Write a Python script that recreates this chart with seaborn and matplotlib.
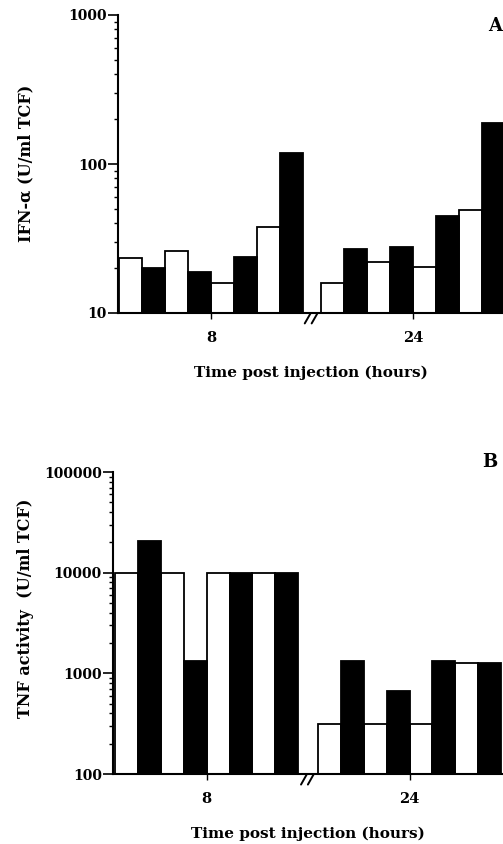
import numpy as np
import pandas as pd
import matplotlib
matplotlib.use("Agg")
import matplotlib.pyplot as plt
import matplotlib.ticker as mticker
import seaborn as sns

# bar values (open/filled pairs, 4 pairs per time point)
time_labels = ["8", "24"]
bar_fill = ["open", "filled"] * 4
ifn_8h = [23.5, 20.1, 26.2, 18.9, 16.0, 23.9, 37.5, 119]
ifn_24h = [16.0, 27.0, 22.1, 27.9, 20.5, 44.5, 48.9, 189]
tnf_8h = [10000, 20500, 10000, 1320, 10000, 10000, 10000, 10000]
tnf_24h = [313, 1320, 313, 660, 313, 1320, 1265, 1265]

sns.set_style("ticks")
plt.rcParams["font.family"] = ["DejaVu Serif"]
plt.rcParams["font.weight"] = "bold"
for key in ["text.color", "axes.labelcolor", "xtick.color", "ytick.color", "axes.edgecolor"]:
    plt.rcParams[key] = "black"

PALETTE = {"open": "white", "filled": "black"}


def make_frame(vals_8, vals_24, gap):
    pos = list(np.arange(8) + 0.5) + list(gap + np.arange(8) + 0.5)
    return pd.DataFrame({
        "pos": pos,
        "value": list(vals_8) + list(vals_24),
        "fill": bar_fill * 2,
    })


def draw_panel(ax, df, gap, ylim, ylabel, xlim, label_xy):
    sns.barplot(data=df, x="pos", y="value", hue="fill", palette=PALETTE,
                native_scale=True, dodge=False, width=1.0, edgecolor="black",
                linewidth=1.3, legend=False, errorbar=None, ax=ax)
    ax.set_yscale("log")
    ax.set_ylim(*ylim)
    ax.set_xlim(*xlim)
    ax.yaxis.set_major_formatter(mticker.FuncFormatter(lambda v, p: f"{int(round(v))}"))
    ax.yaxis.set_minor_formatter(mticker.NullFormatter())
    ax.set_xticks([4, gap + 4])
    ax.set_xticklabels(time_labels)
    ax.tick_params(axis="y", which="major", length=7, width=1.2, pad=1, labelsize=10)
    ax.tick_params(axis="y", which="minor", length=3, width=1.0)
    ax.tick_params(axis="x", length=4, width=1.0, pad=9, labelsize=10.5)
    for lab in ax.get_xticklabels() + ax.get_yticklabels():
        lab.set_fontweight("bold")
    sns.despine(ax=ax)
    ax.spines["left"].set_linewidth(1.5)
    ax.spines["bottom"].set_linewidth(1.5)
    ax.set_xlabel("Time post injection (hours)", fontsize=11, fontweight="bold", labelpad=15)
    ax.set_ylabel(ylabel, fontsize=11.5, fontweight="bold")
    ax.yaxis.set_label_coords(*label_xy)

    # axis break mark between the two time points
    xb = (8 + gap) / 2
    tr = ax.get_xaxis_transform()
    for off in (-0.18, 0.12):
        ax.plot([xb + off - 0.13, xb + off + 0.13], [-0.035, 0.0], color="black",
                lw=1.4, transform=tr, clip_on=False)


fig = plt.figure(figsize=(5.03, 8.44), dpi=100)

gap_a = 8.78
ax_a = fig.add_axes([118 / 503, 531 / 844, 1 - 118 / 503, 298 / 844])
draw_panel(ax_a, make_frame(ifn_8h, ifn_24h, gap_a), gap_a, (10, 1000),
           "IFN-α (U/ml TCF)", (-0.04, 16.70), (-0.218, 0.503))

gap_b = 8.86
ax_b = fig.add_axes([113 / 503, 70 / 844, 1 - 113 / 503, 302 / 844])
draw_panel(ax_b, make_frame(tnf_8h, tnf_24h, gap_b), gap_b, (100, 100000),
           "TNF activity  (U/ml TCF)", (-0.09, 16.94), (-0.203, 0.548))

fig.text(495 / 503, 1 - 26 / 844, "A", ha="center", va="center", fontsize=13, fontweight="bold")
fig.text(490 / 503, 1 - 462 / 844, "B", ha="center", va="center", fontsize=13, fontweight="bold")

fig.savefig("out.png", dpi=100)
